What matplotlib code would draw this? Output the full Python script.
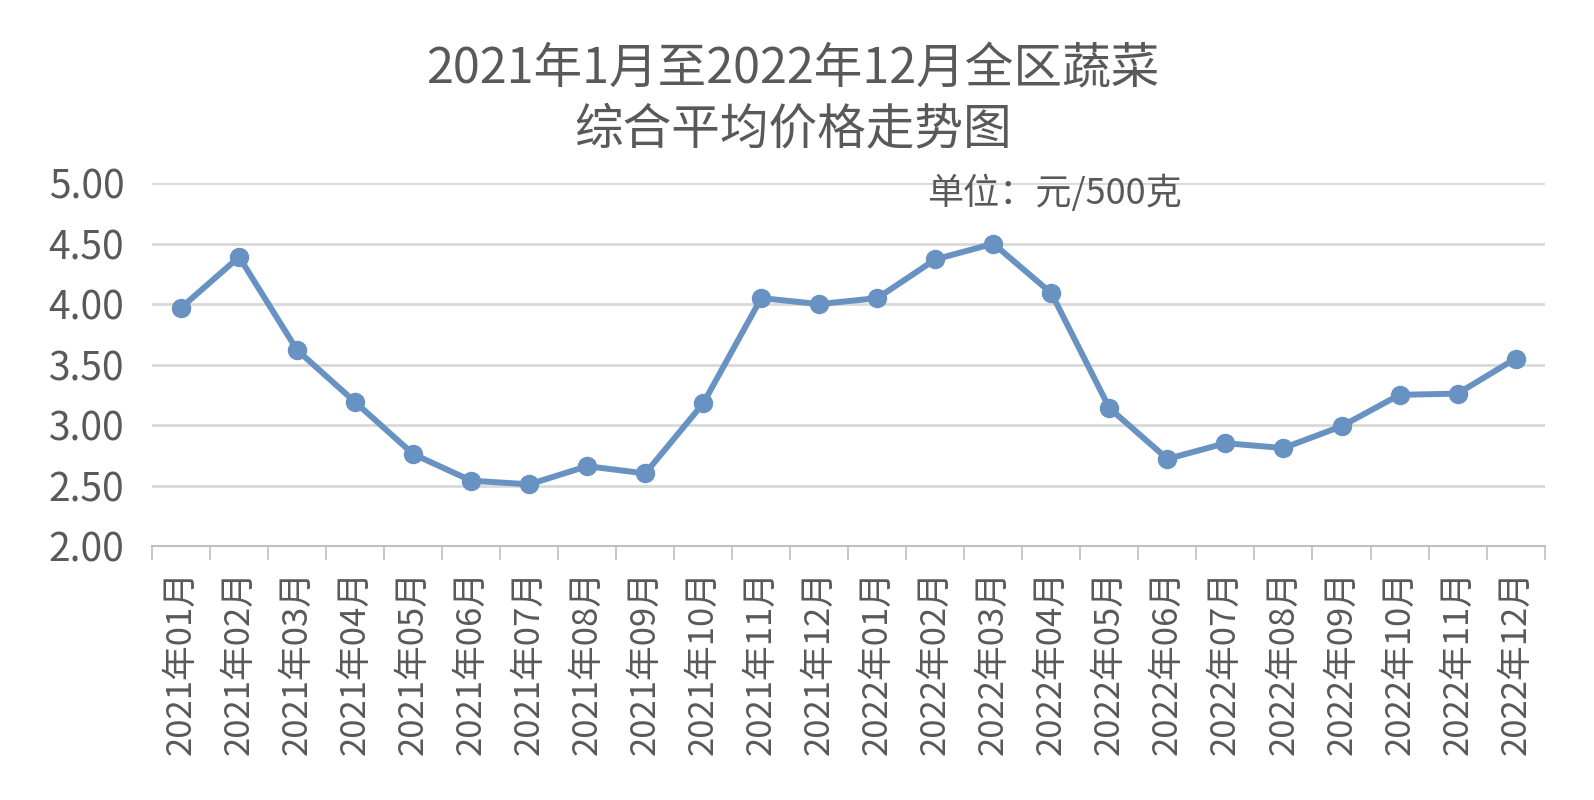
import matplotlib
matplotlib.use("Agg")
import matplotlib.pyplot as plt
from matplotlib.ticker import FixedLocator

plt.rcParams['font.family'] = ['Noto Sans CJK SC', 'DejaVu Sans']

months = ["2021年01月", "2021年02月", "2021年03月", "2021年04月", "2021年05月", "2021年06月",
          "2021年07月", "2021年08月", "2021年09月", "2021年10月", "2021年11月", "2021年12月",
          "2022年01月", "2022年02月", "2022年03月", "2022年04月", "2022年05月", "2022年06月",
          "2022年07月", "2022年08月", "2022年09月", "2022年10月", "2022年11月", "2022年12月"]
prices = [3.97, 4.39, 3.62, 3.19, 2.76, 2.54, 2.51, 2.66, 2.60, 3.18, 4.05, 4.00,
          4.05, 4.37, 4.50, 4.09, 3.14, 2.72, 2.85, 2.81, 2.99, 3.25, 3.26, 3.55]
yticks = [2.0, 2.5, 3.0, 3.5, 4.0, 4.5, 5.0]

title = "2021年1月至2022年12月全区蔬菜\n综合平均价格走势图"
unit = "单位：元/500克"

text_c = "#595959"
line_c = "#6892C2"
grid_c = "#D9D9D9"

fig = plt.figure(figsize=(15.94, 8.0), dpi=100)
ax = fig.add_axes([0.0954, 0.3175, 0.8736, 0.4535])

x = list(range(len(months)))
ax.plot(x, prices, color=line_c, lw=4.3, marker="o", ms=13,
        markerfacecolor=line_c, markeredgecolor=line_c, zorder=3)

ax.set_xlim(-0.5, len(months) - 0.5)
ax.set_ylim(2.0, 5.0)
ax.set_yticks(yticks)
ax.set_yticklabels([f"{v:.2f}" for v in yticks], fontsize=28, color=text_c)
ax.yaxis.grid(True, color=grid_c, lw=2)
ax.set_axisbelow(True)

ax.set_xticks(x)
ax.set_xticklabels(months, rotation=90, fontsize=25, color=text_c)
ax.xaxis.set_minor_locator(FixedLocator([i - 0.5 for i in range(len(months) + 1)]))
ax.tick_params(axis="x", which="major", length=0, pad=17)
ax.tick_params(axis="x", which="minor", length=10, width=1.2, color="#BFBFBF")
ax.tick_params(axis="y", length=0, pad=20)

for s in ["top", "right", "left"]:
    ax.spines[s].set_visible(False)
ax.spines["bottom"].set_color("#BFBFBF")
ax.spines["bottom"].set_linewidth(1.5)

fig.text(0.4975, 0.875, title, ha="center", va="center", fontsize=35,
         color=text_c, linespacing=1.3)
ax.text(12.86, 4.92, unit, ha="left", va="center", fontsize=26, color=text_c)

fig.savefig("out.png", dpi=100, facecolor="white")
